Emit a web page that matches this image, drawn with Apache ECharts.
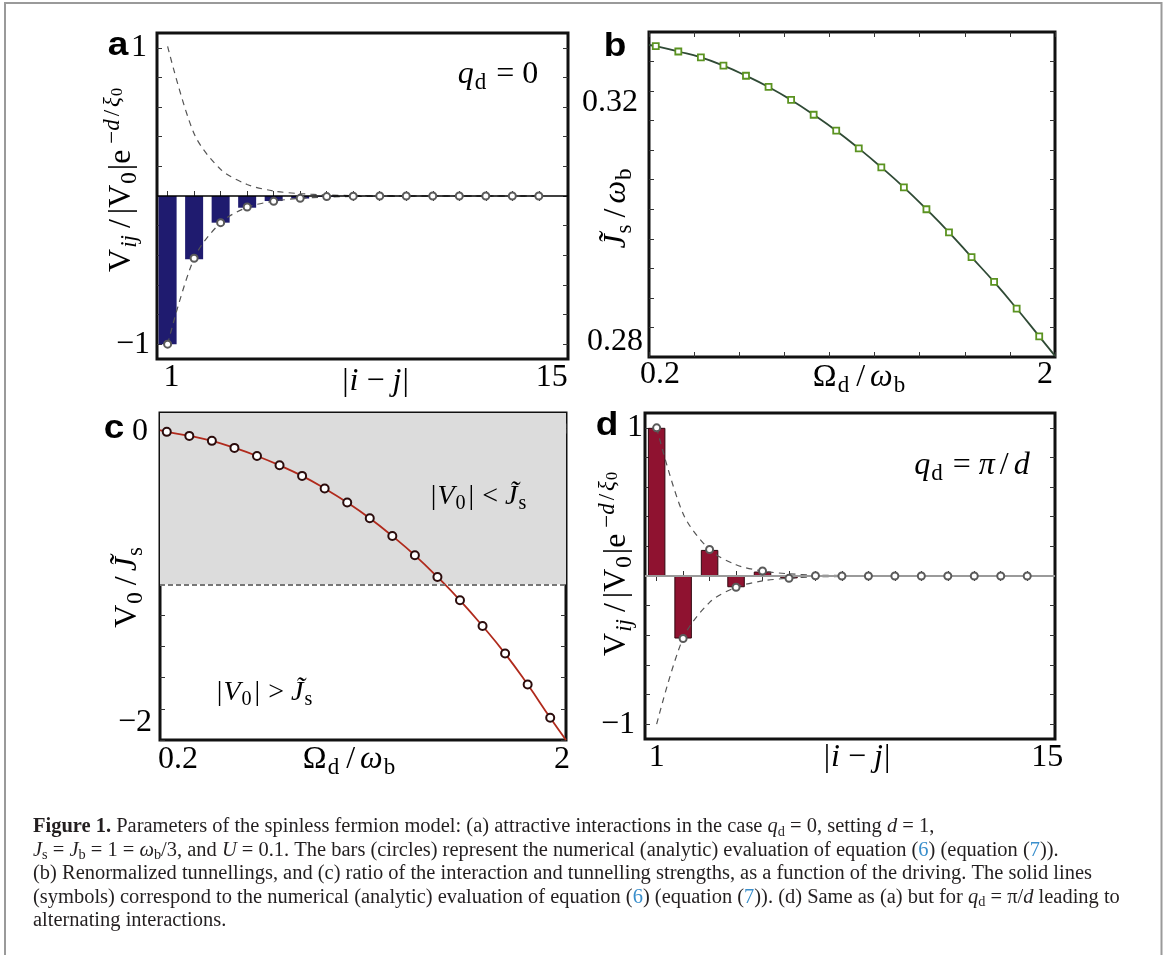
<!DOCTYPE html>
<html>
<head>
<meta charset="utf-8">
<title>Figure 1</title>
<script src="https://cdn.jsdelivr.net/npm/echarts@6.0.0/dist/echarts.min.js"></script>
<style>
  html, body { margin: 0; padding: 0; background: #fff; }
  #fig { width: 1166px; height: 955px; }
</style>
</head>
<body>
<div id="fig"></div>
<script>
// ---- data ----
const sites = [1, 2, 3, 4, 5, 6, 7, 8, 9, 10, 11, 12, 13, 14, 15];

// panel a (q_d = 0)
const barsA     = [-1.0, -0.427, -0.18, -0.079, -0.034, -0.017, -0.005, -0.002, -0.001, 0, 0, 0, 0, 0, 0];
const analyticA = [-1.0, -0.42, -0.18, -0.074, -0.036, -0.016, -0.004, -0.001, 0, 0, 0, 0, 0, 0, 0];
const envUpA    = [1.01, 0.42, 0.18, 0.078, 0.034, 0.016, 0.007, 0.003, 0.001, 0, 0, 0, 0, 0, 0];
const envLowA   = [-1.0, -0.42, -0.18, -0.076, -0.035, -0.016, -0.007, -0.003, -0.001, 0, 0, 0, 0, 0, 0];

// panel d (q_d = pi/d)
const barsD     = [1.0, -0.422, 0.176, -0.076, 0.03, -0.016, 0.004, -0.002, 0.001, 0, 0, 0, 0, 0, 0];
const analyticD = [1.0, -0.422, 0.179, -0.076, 0.034, -0.016, 0.002, 0, 0, 0, 0, 0, 0, 0, 0];
const envUpD    = [1.0, 0.42, 0.178, 0.076, 0.033, 0.015, 0.006, 0.003, 0.001, 0, 0, 0, 0, 0, 0];
const envLowD   = [-1.0, -0.42, -0.178, -0.076, -0.033, -0.015, -0.006, -0.003, -0.001, 0, 0, 0, 0, 0, 0];

// panels b and c share the driving axis
const drive = [0.23, 0.33, 0.43, 0.53, 0.63, 0.73, 0.83, 0.93, 1.03, 1.13, 1.23, 1.33, 1.43, 1.53, 1.63, 1.73, 1.83, 1.93];
const jsSymbols = [0.3276, 0.3267, 0.3257, 0.3243, 0.3226, 0.3207, 0.3185, 0.3160, 0.3133, 0.3103,
                   0.3071, 0.3037, 0.3000, 0.2961, 0.2919, 0.2877, 0.2832, 0.2785];
const jsLineX = [0.2, 0.23, 0.33, 0.43, 0.53, 0.63, 0.73, 0.83, 0.93, 1.03, 1.13, 1.23, 1.33, 1.43, 1.53, 1.63, 1.73, 1.83, 1.93, 2.0];
const jsLineY = [0.3278, 0.3276, 0.3267, 0.3257, 0.3243, 0.3226, 0.3207, 0.3185, 0.3160, 0.3133, 0.3103,
                 0.3071, 0.3037, 0.3000, 0.2961, 0.2919, 0.2877, 0.2832, 0.2785, 0.2752];
const ratioSymbols = [-0.021, -0.047, -0.079, -0.124, -0.176, -0.236, -0.304, -0.385, -0.475, -0.576,
                      -0.690, -0.814, -0.953, -1.103, -1.268, -1.445, -1.644, -1.857];
const ratioLineX = [0.2, 0.23, 0.33, 0.43, 0.53, 0.63, 0.73, 0.83, 0.93, 1.03, 1.13, 1.23, 1.33, 1.43, 1.53, 1.63, 1.73, 1.83, 1.93, 2.0];
const ratioLineY = [-0.01, -0.021, -0.047, -0.079, -0.124, -0.176, -0.236, -0.304, -0.385, -0.475, -0.576,
                    -0.690, -0.814, -0.953, -1.103, -1.268, -1.445, -1.644, -1.857, -2.0];
const thresholdC = -1;   // |V0| = J~s

// ticks and tick labels
const siteTicks = [1, 2, 3, 4, 5, 6, 7, 8, 9, 10, 11, 12, 13, 14, 15];
const siteLabelVals = [1, 15];
const siteLabelTexts = ['1', '15'];
const driveTicks = [0.2, 0.4, 0.6, 0.8, 1.0, 1.2, 1.4, 1.6, 1.8, 2.0];
const driveLabelVals = [0.2, 2];
const driveLabelTexts = ['0.2', '2'];
const vTicks = [-1, -0.8, -0.6, -0.4, -0.2, 0, 0.2, 0.4, 0.6, 0.8, 1];
const vLabelVals = [-1, 1];
const vLabelTexts = ['−1', '1'];
const jsTicks = [0.28, 0.285, 0.29, 0.295, 0.3, 0.305, 0.31, 0.315, 0.32, 0.325];
const jsLabelVals = [0.28, 0.32];
const jsLabelTexts = ['0.28', '0.32'];
const ratioTicks = [-2, -1.8, -1.6, -1.4, -1.2, -1, -0.8, -0.6, -0.4, -0.2, 0];
const ratioLabelVals = [-2, 0];
const ratioLabelTexts = ['−2', '0'];

const captionLines = [
  '{bf|Figure 1.} Parameters of the spinless fermion model: (a) attractive interactions in the case {it|q}{sub|d} = 0, setting {it|d} = 1,',
  '{it|J}{sub|s} = {it|J}{sub|b} = 1 = {it|ω}{sub|b}/3, and {it|U} = 0.1. The bars (circles) represent the numerical (analytic) evaluation of equation ({ln|6}) (equation ({ln|7})).',
  '(b) Renormalized tunnellings, and (c) ratio of the interaction and tunnelling strengths, as a function of the driving. The solid lines',
  '(symbols) correspond to the numerical (analytic) evaluation of equation ({ln|6}) (equation ({ln|7})). (d) Same as (a) but for {it|q}{sub|d} = π/{it|d} leading to',
  'alternating interactions.'
];

// ---- styling helpers ----
const FONT = 'Liberation Serif';

// rich styles for inline math: upright, italic, sub- and superscripts, spaced slashes
function mathRich(size, color) {
  color = color || '#000';
  const lh = Math.round(size * 1.2);
  const base = lh / 2 + 0.3 * size;
  const s2 = size * 0.72;
  const subPad = base + 0.17 * size - 0.3 * s2 - s2 / 2;
  const s3 = size * 0.5;
  const supBase = base - 0.4 * size;
  const ssPad = supBase + 0.13 * size - 0.3 * s3 - s3 / 2;
  const t = (o) => Object.assign({ fontFamily: FONT, color: color, fill: color }, o);
  return {
    r: t({ fontSize: size, lineHeight: lh }),
    i: t({ fontSize: size, lineHeight: lh, fontStyle: 'italic' }),
    sl: t({ fontSize: size, lineHeight: lh, padding: [0, 5, 0, 5] }),
    bar: t({ fontSize: size, lineHeight: lh, padding: [0, 1, 0, 1] }),
    sub: t({ fontSize: s2, lineHeight: lh, height: s2, verticalAlign: 'top', padding: [subPad, 2, 0, 1] }),
    subi: t({ fontSize: s2, lineHeight: lh, height: s2, verticalAlign: 'top', padding: [subPad, 2, 0, 1], fontStyle: 'italic' }),
    sup: t({ fontSize: s2, lineHeight: lh, height: s2 * 0.9, verticalAlign: 'top' }),
    supi: t({ fontSize: s2, lineHeight: lh, height: s2 * 0.9, verticalAlign: 'top', fontStyle: 'italic' }),
    ssl: t({ fontSize: s2, lineHeight: lh, height: s2 * 0.9, verticalAlign: 'top', padding: [0, 3, 0, 3] }),
    supsub: t({ fontSize: s3, lineHeight: lh, height: s3, verticalAlign: 'top', padding: [ssPad, 0, 0, 1] })
  };
}

function tickAxis(grid, range, ticks, position) {
  return {
    type: 'value', gridIndex: grid, min: range[0], max: range[1], position: position,
    axisLine: { show: false },
    splitLine: { show: false },
    axisTick: { show: true, inside: true, length: 5, customValues: ticks, lineStyle: { color: '#333', width: 1 } },
    axisLabel: { show: false }
  };
}

function labelSpec(values, texts, pads, margin) {
  const rich = {};
  pads.forEach((p, k) => {
    rich['p' + k] = { fontFamily: FONT, fontSize: 32, lineHeight: 36, color: '#000', padding: p };
  });
  return {
    show: true, customValues: values, margin: margin,
    fontFamily: FONT, fontSize: 32, color: '#000',
    formatter: (v) => {
      const k = values.indexOf(v);
      return k < 0 ? '' : '{p' + k + '|' + texts[k] + '}';
    },
    rich: rich
  };
}

function nameSpec(name, gap, pad, rotate) {
  return {
    name: name, nameLocation: 'middle', nameGap: gap, nameRotate: rotate, nameMoveOverlap: false,
    nameTextStyle: { fontFamily: FONT, fontSize: 32, lineHeight: 38, color: '#000', padding: pad, rich: mathRich(32) }
  };
}

function mainAxis(grid, range, ticks, position, label, name) {
  return Object.assign(tickAxis(grid, range, ticks, position), { axisLabel: label }, name);
}

const VNAME = '{r|V}{subi|ij}{sl|/}{r||V}{sub|0}{r||e}{sup| −}{supi|d}{ssl|/}{supi|ξ}{supsub|0}';
const SITENAME = '{bar||}{i|i}{r| − }{i|j}{bar||}';
const DRIVENAME = '{r|Ω}{sub|d}{sl|/}{i|ω}{sub|b}';

const ranges = {
  aX: [0.6, 16.1], aY: [-1.1, 1.1],
  bX: [0.2, 2], bY: [0.275, 0.33],
  cX: [0.2, 2], cY: [-2, 0.1],
  dX: [0.56, 16.05], dY: [-1.1, 1.1]
};

const xAxis = [
  mainAxis(0, ranges.aX, siteTicks, 'bottom',
    labelSpec(siteLabelVals, siteLabelTexts, [[0, 0, 0, 8], [0, 0, 0, 26]], 1),
    nameSpec(SITENAME, 4, [0, 0, 0, 26], 0)),
  tickAxis(0, ranges.aX, siteTicks, 'top'),
  mainAxis(1, ranges.bX, driveTicks, 'bottom',
    labelSpec(driveLabelVals, driveLabelTexts, [[0, 0, 0, 22], [0, 20, 0, 0]], 0),
    nameSpec(DRIVENAME, 2, [0, 0, 0, 16], 0)),
  tickAxis(1, ranges.bX, driveTicks, 'top'),
  mainAxis(2, ranges.cX, driveTicks, 'bottom',
    labelSpec(driveLabelVals, driveLabelTexts, [[0, 0, 0, 36], [0, 8, 0, 0]], 2),
    nameSpec(DRIVENAME, 1, [0, 26, 0, 0], 0)),
  tickAxis(2, ranges.cX, driveTicks, 'top'),
  mainAxis(3, ranges.dX, siteTicks, 'bottom',
    labelSpec(siteLabelVals, siteLabelTexts, [[0, 0, 0, 0], [0, 0, 0, 40]], 1),
    nameSpec(SITENAME, 0, [0, 0, 0, 14], 0)),
  tickAxis(3, ranges.dX, siteTicks, 'top')
];

const yAxis = [
  mainAxis(0, ranges.aY, vTicks, 'left',
    labelSpec(vLabelVals, vLabelTexts, [[0, 0, 0, 0], [0, 3, 0, 0]], 7),
    nameSpec(VNAME, 16, [0, 0, 0, 32], 90)),
  tickAxis(0, ranges.aY, vTicks, 'right'),
  mainAxis(1, ranges.bY, jsTicks, 'left',
    labelSpec(jsLabelVals, jsLabelTexts, [[28, 0, 0, 0], [24, 5, 0, 0]], 6),
    nameSpec('{i|J\u0303}{sub|s}{sl|/}{i|ω}{sub|b}', 13, [0, 26, 0, 0], 90)),
  tickAxis(1, ranges.bY, jsTicks, 'right'),
  mainAxis(2, ranges.cY, ratioTicks, 'left',
    labelSpec(ratioLabelVals, ratioLabelTexts, [[0, 0, 34, 0], [7, 4, 0, 0]], 8),
    nameSpec('{r|V}{sub|0}{sl|/}{i|J\u0303}{sub|s}', 13, [0, 20, 0, 0], 90)),
  tickAxis(2, ranges.cY, ratioTicks, 'right'),
  mainAxis(3, ranges.dY, vTicks, 'left',
    labelSpec(vLabelVals, vLabelTexts, [[0, 8, 0, 0], [0, 0, 0, 0]], 2),
    nameSpec(VNAME, 9, [0, 0, 0, 24], 90)),
  tickAxis(3, ranges.dY, vTicks, 'right')
];

const frame = { show: true, borderColor: '#111', borderWidth: 3, backgroundColor: 'transparent', outerBoundsMode: 'none', containLabel: false };
const grid = [
  Object.assign({ left: 157, top: 33, width: 411, height: 326 }, frame),
  Object.assign({ left: 649, top: 32, width: 406, height: 325 }, frame),
  Object.assign({ left: 160, top: 413, width: 406, height: 327 }, frame),
  Object.assign({ left: 645, top: 413, width: 410, height: 326 }, frame)
];

const pair = (xs, ys) => xs.map((x, i) => [x, ys[i]]);

function zeroLine(color, width) {
  return {
    silent: true, symbol: ['none', 'none'], label: { show: false },
    lineStyle: { color: color, width: width, type: 'solid' },
    data: [{ yAxis: 0 }]
  };
}

function envelope(p, ys) {
  return {
    type: 'line', xAxisIndex: 2 * p, yAxisIndex: 2 * p, data: pair(sites, ys),
    showSymbol: false, smooth: 0.3, z: 4,
    lineStyle: { color: '#555', width: 1.2, type: [6, 5] }
  };
}

function analytic(p, ys) {
  return {
    type: 'scatter', xAxisIndex: 2 * p, yAxisIndex: 2 * p, data: pair(sites, ys),
    symbol: 'circle', symbolSize: 7, z: 6,
    itemStyle: { color: '#fff', borderColor: '#5a5a5a', borderWidth: 2, opacity: 1 }
  };
}

const series = [
  // a
  {
    type: 'bar', xAxisIndex: 0, yAxisIndex: 0, data: pair(sites, barsA), barWidth: 18, z: 2,
    itemStyle: { color: '#1f1b6f' },
    markLine: zeroLine('#000', 1.5)
  },
  envelope(0, envUpA),
  envelope(0, envLowA),
  analytic(0, analyticA),
  // b
  {
    type: 'line', xAxisIndex: 2, yAxisIndex: 2, data: pair(jsLineX, jsLineY),
    showSymbol: false, smooth: true, z: 3,
    lineStyle: { color: '#2f4a35', width: 1.8 }
  },
  {
    type: 'scatter', xAxisIndex: 2, yAxisIndex: 2, data: pair(drive, jsSymbols),
    symbol: 'rect', symbolSize: 6, z: 5,
    itemStyle: { color: '#fff', borderColor: '#5b9321', borderWidth: 1.8, opacity: 1 }
  },
  // c
  {
    type: 'line', xAxisIndex: 4, yAxisIndex: 4, data: pair(ratioLineX, ratioLineY),
    showSymbol: false, smooth: true, z: 3,
    lineStyle: { color: '#b02a1c', width: 1.8 },
    markArea: {
      silent: true, itemStyle: { color: '#dcdcdc' },
      data: [[{ yAxis: thresholdC }, { yAxis: ranges.cY[1] }]]
    },
    markLine: {
      silent: true, symbol: ['none', 'none'], label: { show: false },
      lineStyle: { color: '#777', width: 2, type: [5, 3] },
      data: [{ yAxis: thresholdC }]
    }
  },
  {
    type: 'scatter', xAxisIndex: 4, yAxisIndex: 4, data: pair(drive, ratioSymbols),
    symbol: 'circle', symbolSize: 8, z: 5,
    itemStyle: { color: '#fff', borderColor: '#2b0c0c', borderWidth: 2, opacity: 1 }
  },
  // d
  {
    type: 'bar', xAxisIndex: 6, yAxisIndex: 6, data: pair(sites, barsD), barWidth: 17.5, z: 2,
    itemStyle: { color: '#8f1230', borderColor: '#300810', borderWidth: 1 },
    markLine: zeroLine('#9a9a9a', 2)
  },
  envelope(3, envUpD),
  envelope(3, envLowD),
  analytic(3, analyticD)
];

// caption: condensed serif, scaled so the third line fills its measured width
const capCtx = document.createElement('canvas').getContext('2d');
capCtx.font = '20px "Liberation Serif"';
const capScale = 1059 / capCtx.measureText(captionLines[2]).width;
const capRich = {
  bf: { fontFamily: FONT, fontSize: 20, lineHeight: 24, fontWeight: 'bold', fill: '#231f20' },
  it: { fontFamily: FONT, fontSize: 20, lineHeight: 24, fontStyle: 'italic', fill: '#231f20' },
  sub: { fontFamily: FONT, fontSize: 14, lineHeight: 24, height: 14, verticalAlign: 'top', padding: [10.2, 0, 0, 0], fill: '#231f20' },
  ln: { fontFamily: FONT, fontSize: 20, lineHeight: 24, fill: '#3a8fcc' }
};
const captionY = [827, 850.5, 874, 897.5, 921];

function panelLetter(ch, x, y) {
  return {
    type: 'text', x: x, y: y, scaleX: 1.12, silent: true, z: 100,
    style: { text: ch, fontFamily: 'Liberation Sans', fontWeight: 'bold', fontSize: 33, fill: '#000',
             align: 'center', verticalAlign: 'middle', textAlign: 'center', textVerticalAlign: 'middle' }
  };
}

function mathText(text, x, y, size) {
  return {
    type: 'text', x: x, y: y, silent: true, z: 100,
    style: { text: text, rich: mathRich(size), fontFamily: FONT, fontSize: size, lineHeight: Math.round(size * 1.2), fill: '#000',
             align: 'center', verticalAlign: 'middle', textAlign: 'center', textVerticalAlign: 'middle' }
  };
}

const graphic = [
  { type: 'rect', silent: true, z: -10, shape: { x: 5, y: 3, width: 1156.5, height: 1000 },
    style: { fill: 'none', stroke: '#9a9a9a', lineWidth: 2 } },
  panelLetter('a', 118, 46),
  panelLetter('b', 615, 47),
  panelLetter('c', 114, 429),
  panelLetter('d', 607, 426),
  mathText('{i|q}{sub|d}{r| = 0}', 498, 75, 32),
  mathText('{i|q}{sub|d}{r| = }{i|π}{sl|/}{i|d}', 972, 466, 32),
  mathText('{bar||}{i|V}{sub|0}{bar||}{r| < }{i|J\u0303}{sub|s}', 479, 497, 28),
  mathText('{bar||}{i|V}{sub|0}{bar||}{r| > }{i|J\u0303}{sub|s}', 265, 693, 28)
].concat(captionLines.map((line, k) => ({
  type: 'text', x: 33, y: captionY[k], scaleX: capScale, silent: true, z: 100,
  style: { text: line, rich: capRich, fontFamily: FONT, fontSize: 20, lineHeight: 24, fill: '#231f20',
           align: 'left', verticalAlign: 'middle', textAlign: 'left', textVerticalAlign: 'middle' }
})));

const chart = echarts.init(document.getElementById('fig'), null, { renderer: 'canvas' });
chart.setOption({
  animation: false,
  backgroundColor: '#fff',
  textStyle: { fontFamily: FONT },
  grid: grid,
  xAxis: xAxis,
  yAxis: yAxis,
  series: series,
  graphic: { elements: graphic }
});
window.addEventListener('resize', () => chart.resize());
</script>
</body>
</html>
